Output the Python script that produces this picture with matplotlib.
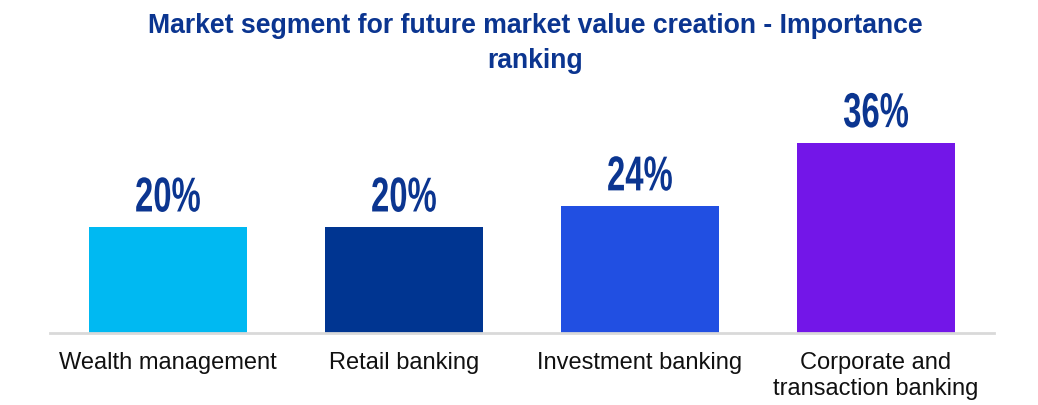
import matplotlib.pyplot as plt
from matplotlib.textpath import TextPath
from matplotlib.patches import PathPatch
from matplotlib.font_manager import FontProperties
from matplotlib.transforms import Affine2D, ScaledTranslation
import numpy as np

# importance ranking of market segments (share of respondents, %)
segments = ['Wealth management', 'Retail banking', 'Investment banking',
            'Corporate and\ntransaction banking']
shares = [20, 20, 24, 36]
colors = ['#00b9f2', '#003591', '#214fe2', '#7316e8']

title_color = '#0b3590'

plt.rcParams['font.family'] = ['Liberation Sans', 'DejaVu Sans']

fig = plt.figure(figsize=(10.38, 4.05), dpi=100)
ax = fig.add_axes([0.0482, 0.1778, 0.9094, 0.521])

x = np.arange(len(segments))
bars = ax.bar(x, shares, width=0.67, color=colors, zorder=2)

ax.set_xlim(-0.5, 3.5)
ax.set_ylim(0, 40)

# condensed bold value labels: squeeze glyph outlines horizontally
label_font = FontProperties(family='Liberation Sans', weight='bold')
for rect, val in zip(bars, shares):
    tp = TextPath((0, 0), f'{val}%', size=49, prop=label_font)
    ext = tp.get_extents()
    sx = 0.67
    tr = (Affine2D().translate(-(ext.x0 + ext.x1) / 2, 0).scale(sx, 1).translate(0, 16)
          + ScaledTranslation(rect.get_x() + rect.get_width() / 2, rect.get_height(), ax.transData))
    ax.add_artist(PathPatch(tp, transform=tr, facecolor=title_color, edgecolor='none',
                            clip_on=False))

ax.set_xticks(x)
ax.set_xticklabels(segments, fontsize=17, color='#111111', linespacing=1.2)
ax.tick_params(axis='x', length=0, pad=14)
ax.set_yticks([])
for side in ['top', 'right', 'left']:
    ax.spines[side].set_visible(False)
ax.spines['bottom'].set_color('#d9d9d9')
ax.spines['bottom'].set_linewidth(2)

fig.text(0.516, 0.967, 'Market segment for future market value creation - Importance\nranking',
         ha='center', va='top', fontsize=19.2, fontweight='bold', color=title_color,
         linespacing=1.45)

fig.savefig('out.png', dpi=100)
